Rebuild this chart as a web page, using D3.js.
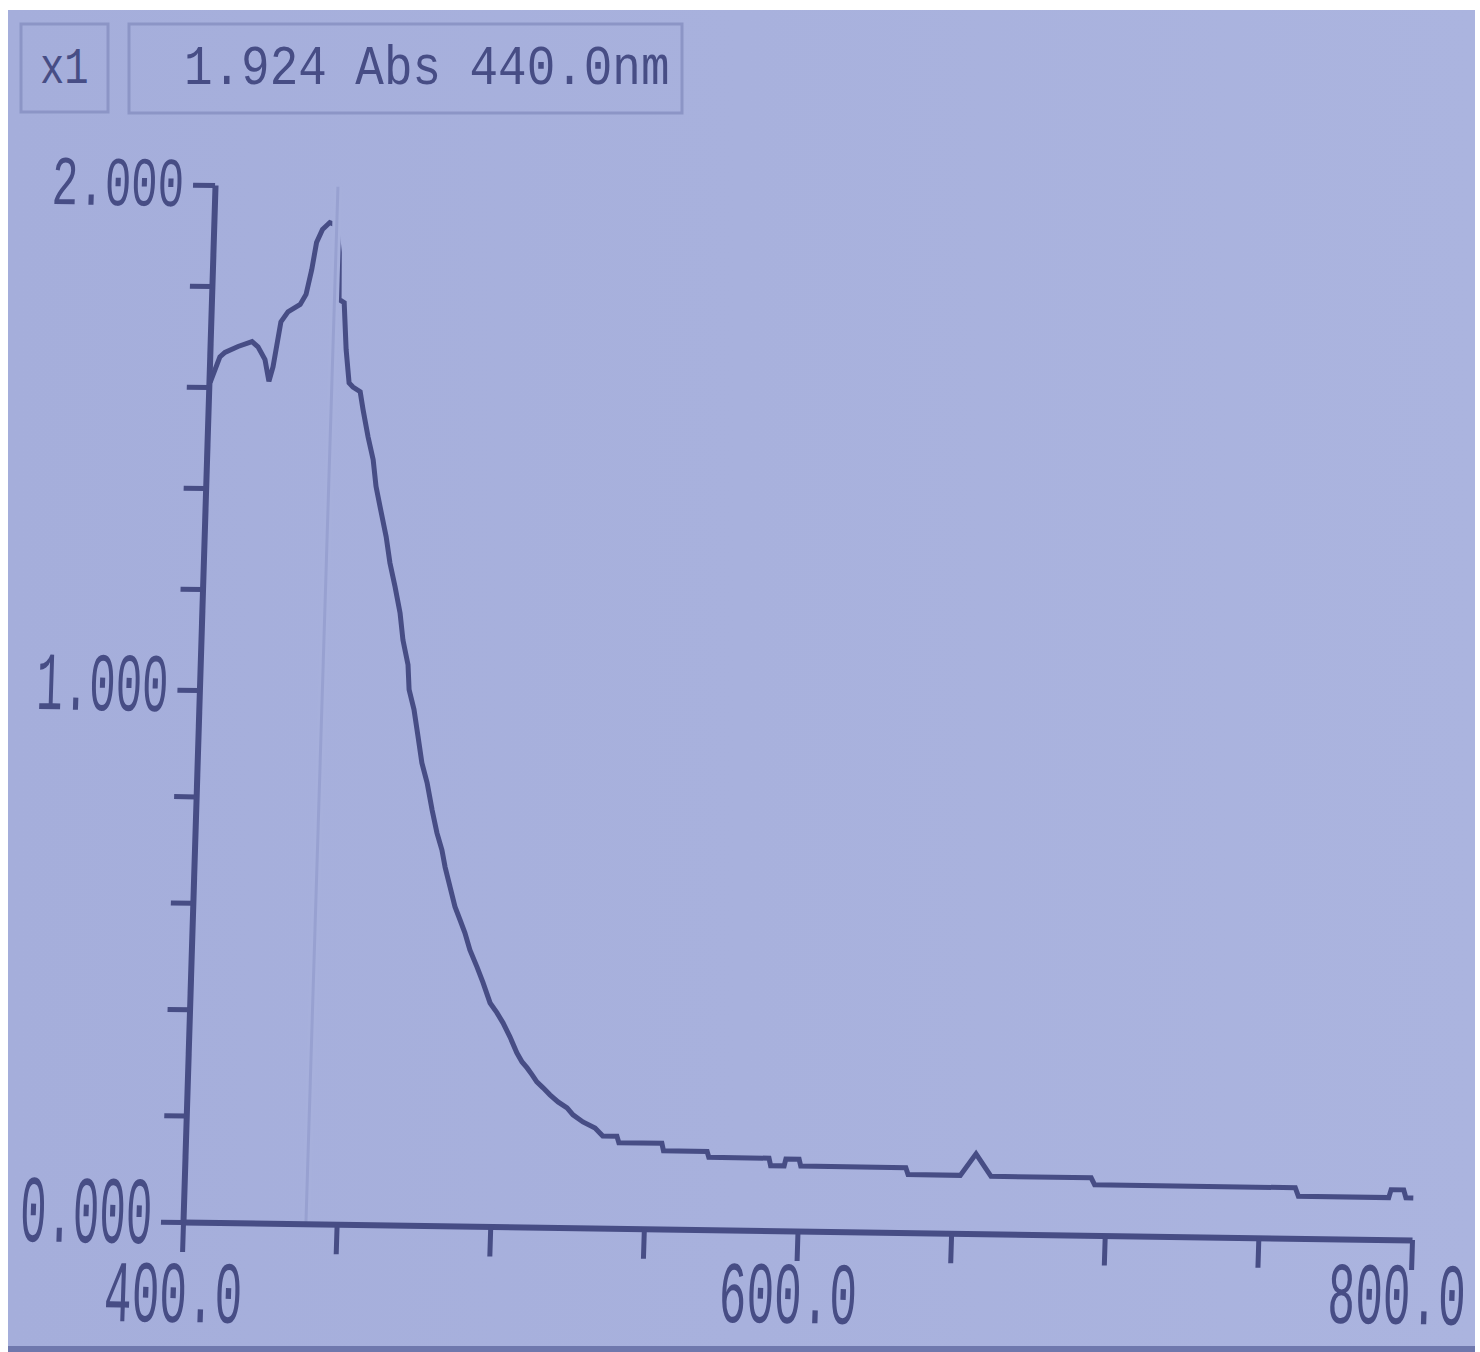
<!DOCTYPE html>
<html>
<head>
<meta charset="utf-8">
<script src="https://cdn.jsdelivr.net/npm/d3@7"></script>
<style>
    body { margin: 0; background: #ffffff; }
    svg { display: block; }
</style>
</head>
<body>
<svg width="1480" height="1352"></svg>
<script>
// spectrum (nm, Abs)
const wavelength = [400.4, 403.3, 404.9, 409.1, 413.6, 415.6, 418.0, 419.5, 420.7, 422.8,
    425.0, 428.9, 430.7, 432.3, 433.6, 435.4, 437.7, 440.0, 441.1, 441.5,
    443.2, 444.3, 445.6, 446.9, 449.3, 450.4, 452.3, 454.2, 455.4, 457.3,
    459.2, 460.7, 462.6, 464.5, 465.7, 467.6, 468.2, 470.0, 471.6, 473.1,
    475.0, 476.9, 478.7, 480.5, 481.7, 483.5, 485.3, 487.1, 488.8, 490.6,
    493.1, 495.2, 497.7, 500.0, 502.1, 504.5, 506.9, 508.7, 510.4, 512.1,
    513.7, 515.8, 518.1, 520.8, 523.8, 525.8, 529.1, 533.1, 535.7, 540.3,
    541.0, 555.0, 555.6, 569.8, 570.4, 590.0, 590.6, 595.0, 595.5, 599.8,
    600.4, 634.6, 635.4, 652.4, 657.3, 662.4, 695.0, 696.2, 761.5, 762.6,
    792.0, 792.7, 796.8, 797.6, 800.0];
const absorbance = [1.609, 1.660, 1.669, 1.681, 1.691, 1.681, 1.656, 1.613, 1.642, 1.731,
    1.751, 1.766, 1.786, 1.835, 1.889, 1.915, 1.929, 1.924, 1.870, 1.777,
    1.771, 1.678, 1.612, 1.604, 1.595, 1.560, 1.506, 1.461, 1.408, 1.358,
    1.309, 1.257, 1.210, 1.158, 1.105, 1.056, 1.007, 0.969, 0.918, 0.869,
    0.832, 0.781, 0.738, 0.706, 0.674, 0.637, 0.600, 0.575, 0.551, 0.519,
    0.487, 0.458, 0.420, 0.402, 0.383, 0.357, 0.327, 0.310, 0.299, 0.286,
    0.273, 0.262, 0.249, 0.236, 0.225, 0.212, 0.199, 0.188, 0.173, 0.173,
    0.161, 0.161, 0.147, 0.147, 0.136, 0.136, 0.122, 0.122, 0.135, 0.135,
    0.122, 0.122, 0.109, 0.109, 0.150, 0.108, 0.108, 0.095, 0.095, 0.079,
    0.079, 0.094, 0.094, 0.079, 0.079];

const xTicks = [400, 450, 500, 550, 600, 650, 700, 750, 800];
const xLabels = [400, 600, 800];
const yTicks = [0, 0.2, 0.4, 0.6, 0.8, 1.0, 1.2, 1.4, 1.6, 1.8, 2.0];
const yLabels = [0, 1, 2];
const cursorNm = 440;
const zoomText = 'x1';
const readoutText = '1.924 Abs 440.0nm';

const ink = '#474d85';
const lcd = '#a7b0dc';
const lcdFont = '"Liberation Mono", "DejaVu Sans Mono", monospace';

const svg = d3.select('svg');

// LCD background (photo of the instrument screen)
const defs = svg.append('defs');
const grad = defs.append('linearGradient')
    .attr('id', 'lcdbg')
    .attr('x1', 0).attr('y1', 0).attr('x2', 1).attr('y2', 0);
grad.append('stop').attr('offset', 0).attr('stop-color', '#a5aedb');
grad.append('stop').attr('offset', 1).attr('stop-color', '#abb4df');

svg.append('rect')
    .attr('x', 8).attr('y', 10)
    .attr('width', 1467).attr('height', 1337)
    .attr('fill', 'url(#lcdbg)');
svg.append('rect')
    .attr('x', 8).attr('y', 1346)
    .attr('width', 1467).attr('height', 6)
    .attr('fill', '#6f78ad');

// header boxes
const header = svg.append('g');
header.append('rect')
    .attr('x', 21).attr('y', 24).attr('width', 87).attr('height', 88)
    .attr('fill', 'none').attr('stroke', '#8c95c6').attr('stroke-width', 3);
header.append('rect')
    .attr('x', 129).attr('y', 24).attr('width', 553).attr('height', 89)
    .attr('fill', 'none').attr('stroke', '#8c95c6').attr('stroke-width', 3);
header.append('text')
    .attr('transform', 'translate(40,83) scale(0.78,1)')
    .attr('font-family', lcdFont).attr('font-size', 52)
    .attr('fill', ink)
    .text(zoomText);
header.append('text')
    .attr('transform', 'translate(184,84) scale(0.85,1)')
    .attr('font-family', lcdFont).attr('font-size', 56)
    .attr('fill', ink)
    .text(readoutText);

// plot frame, slightly sheared like the photographed screen
const plotW = 1229;
const plotH = 1037;
const plot = svg.append('g')
    .attr('transform', 'matrix(1,0.01465,-0.0309,1,183,1222)');

const x = d3.scaleLinear().domain([400, 800]).range([0, plotW]);
const y = d3.scaleLinear().domain([0, 1, 2]).range([0, -532, -plotH]);

const points = wavelength.map((w, i) => ({ w: w, a: absorbance[i] }));

const line = d3.line()
    .x(d => x(d.w))
    .y(d => y(d.a));

plot.append('path')
    .datum(points)
    .attr('fill', 'none')
    .attr('stroke', ink)
    .attr('stroke-width', 5)
    .attr('stroke-linejoin', 'miter')
    .attr('d', line);

// cursor line cuts the trace
plot.append('line')
    .attr('x1', x(cursorNm)).attr('x2', x(cursorNm))
    .attr('y1', y(0)).attr('y2', y(2))
    .attr('stroke', lcd).attr('stroke-width', 9);
plot.append('line')
    .attr('x1', x(cursorNm)).attr('x2', x(cursorNm))
    .attr('y1', y(0)).attr('y2', y(2))
    .attr('stroke', '#98a1d1').attr('stroke-width', 3);

// axes
const xAxis = d3.axisBottom(x)
    .tickValues(xTicks)
    .tickSize(30)
    .tickSizeOuter(0)
    .tickFormat(d => xLabels.includes(d) ? d.toFixed(1) : '');

const yAxis = d3.axisLeft(y)
    .tickValues(yTicks)
    .tickSize(22)
    .tickSizeOuter(0)
    .tickFormat(d => yLabels.includes(d) ? d.toFixed(3) : '');

const gx = plot.append('g').call(xAxis);
const gy = plot.append('g').call(yAxis);

[gx, gy].forEach(g => {
    g.attr('font-family', lcdFont);
    g.select('.domain').attr('stroke', ink).attr('stroke-width', 6);
    g.selectAll('.tick line').attr('stroke', ink).attr('stroke-width', 5);
    g.selectAll('.tick text').attr('fill', ink);
});

// tall narrow LCD digits: squeeze glyphs horizontally
// (baseline lifted toward the right so the labels stay inside the picture)
gx.selectAll('.tick text')
    .attr('font-size', 88)
    .attr('x', null)
    .attr('y', null)
    .attr('dy', null)
    .attr('transform', d => {
        const dx = d === 800 ? -14 : -8;
        const by = 100 - (d - 400) * 0.04;
        return `translate(${dx},${by}) scale(0.523,1)`;
    });

gy.selectAll('.tick text')
    .attr('font-size', d => (67 - 9 * d) / 0.7)
    .attr('x', null)
    .attr('y', null)
    .attr('dy', null)
    .attr('transform', d => `translate(-31,21) scale(${(132 / (3 * (67 - 9 * d) / 0.7)).toFixed(3)},1)`);
</script>
</body>
</html>
